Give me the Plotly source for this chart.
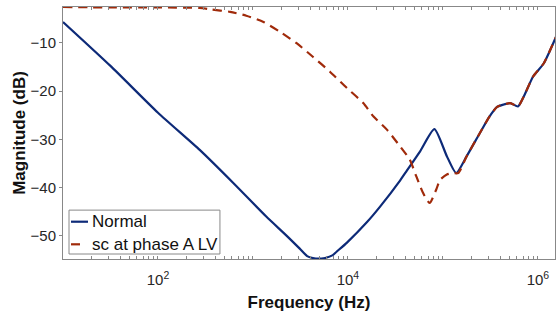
import plotly.graph_objects as go

# Frequency (Hz) and magnitude (dB)
normal_f = [10, 31.6, 100, 275, 617, 1380, 2240, 3090, 3720, 4270, 5250, 5750,
            6920, 7590, 9770, 15800, 21900, 35500, 41700, 57500, 81300, 110000,
            138000, 178000, 245000, 309000, 372000, 437000, 513000, 617000, 708000,
            891000, 1150000, 1550000]
normal_db = [-5.7, -14.8, -24.5, -32.2, -39.0, -46.0, -49.9, -52.6, -54.2, -54.6,
             -54.7, -54.6, -54.0, -53.3, -51.4, -47.2, -43.9, -38.5, -36.5, -32.5,
             -27.9, -33.5, -37.0, -33.5, -28.7, -25.3, -23.3, -22.8, -22.5, -23.2,
             -21.2, -17.0, -14.3, -8.8]

sc_f = [10, 31.6, 100, 275, 355, 575, 851, 1290, 1910, 2880, 4270, 6460, 9770, 14500,
        18600, 25700, 35500, 44700, 52500, 61700, 72400, 85100, 93300, 110000,
        126000, 145000, 178000, 245000, 309000, 372000, 437000, 513000, 617000,
        708000, 891000, 1150000, 1550000]
sc_db = [-2.6, -2.7, -2.7, -2.8, -3.1, -3.6, -4.4, -5.7, -7.7, -10.1, -12.9, -16.0,
         -19.4, -22.5, -25.3, -28.0, -31.5, -34.2, -37.7, -41.1, -43.2, -40.4, -38.4,
         -37.3, -37.0, -37.0, -33.5, -28.7, -25.3, -23.3, -22.8, -22.5, -23.2, -21.2,
         -17.0, -14.3, -8.8]

series_names = ["Normal", "sc at phase A LV"]

x_major = [100, 10000, 1000000]
x_major_labels = ["10<sup>2</sup>", "10<sup>4</sup>", "10<sup>6</sup>"]
y_ticks = [-50, -40, -30, -20, -10]

colors = ["#0d2a78", "#a02a0a"]

# all log-axis tick positions (minor + major)
x_all = []
x_text = []
for dec in [10, 100, 1000, 10000, 100000, 1000000]:
    for m in range(1, 10):
        v = dec * m
        if v > 1600000:
            continue
        x_all.append(v)
        if v in x_major:
            x_text.append(x_major_labels[x_major.index(v)])
        else:
            x_text.append("")

fig = go.Figure()
fig.add_trace(go.Scatter(x=normal_f, y=normal_db, mode="lines", name=series_names[0],
                         line=dict(color=colors[0], width=2.2, shape="spline", smoothing=0.6)))
fig.add_trace(go.Scatter(x=sc_f, y=sc_db, mode="lines", name=series_names[1],
                         line=dict(color=colors[1], width=2.2, dash="9px,6px",
                                   shape="spline", smoothing=0.6)))

# compact MATLAB-style legend box
fig.add_shape(type="rect", xref="x domain", yref="y domain",
              x0=0.0122, x1=0.319, y0=0.0198, y1=0.194,
              line=dict(color="#888888", width=1), fillcolor="white", layer="above")
fig.add_shape(type="line", xref="x domain", yref="y domain",
              x0=0.0163, x1=0.0508, y0=0.148, y1=0.148,
              line=dict(color=colors[0], width=2.2), layer="above")
fig.add_shape(type="line", xref="x domain", yref="y domain",
              x0=0.0163, x1=0.0346, y0=0.0583, y1=0.0583,
              line=dict(color=colors[1], width=2.2), layer="above")
for name, yy in zip(series_names, [0.148, 0.0583]):
    fig.add_annotation(text=name, xref="x domain", yref="y domain", x=0.0549, y=yy,
                       xanchor="left", yanchor="middle", showarrow=False,
                       font=dict(size=17, color="#111111"))

font = "Liberation Sans, Arial, sans-serif"
fig.update_layout(
    width=556, height=314,
    margin=dict(l=63, r=1, t=7, b=55),
    plot_bgcolor="white", paper_bgcolor="white",
    font=dict(family=font, size=15, color="#262626"),
    showlegend=False,
    xaxis=dict(type="log", range=[1.0, 6.18], tickvals=x_all, ticktext=x_text,
               ticks="inside", ticklen=3, tickcolor="#888888", ticklabelstandoff=7,
               showline=True, linecolor="#888888", linewidth=1, mirror="ticks",
               showgrid=False, zeroline=False,
               title=dict(text="<b>Frequency (Hz)</b>", font=dict(size=17, color="#111111"),
                          standoff=9),
               tickfont=dict(size=15, color="#262626")),
    yaxis=dict(range=[-54.8, -2.6], tickvals=y_ticks,
               ticks="outside", ticklen=3, tickcolor="#888888",
               showline=True, linecolor="#888888", linewidth=1, mirror=True,
               showgrid=False, zeroline=False,
               title=dict(text="<b>Magnitude (dB)</b>", font=dict(size=17, color="#111111"),
                          standoff=0),
               tickfont=dict(size=15, color="#262626")),
)

fig.write_html("out.html", config={"displayModeBar": False},
               post_script="document.body.style.margin='0';")
